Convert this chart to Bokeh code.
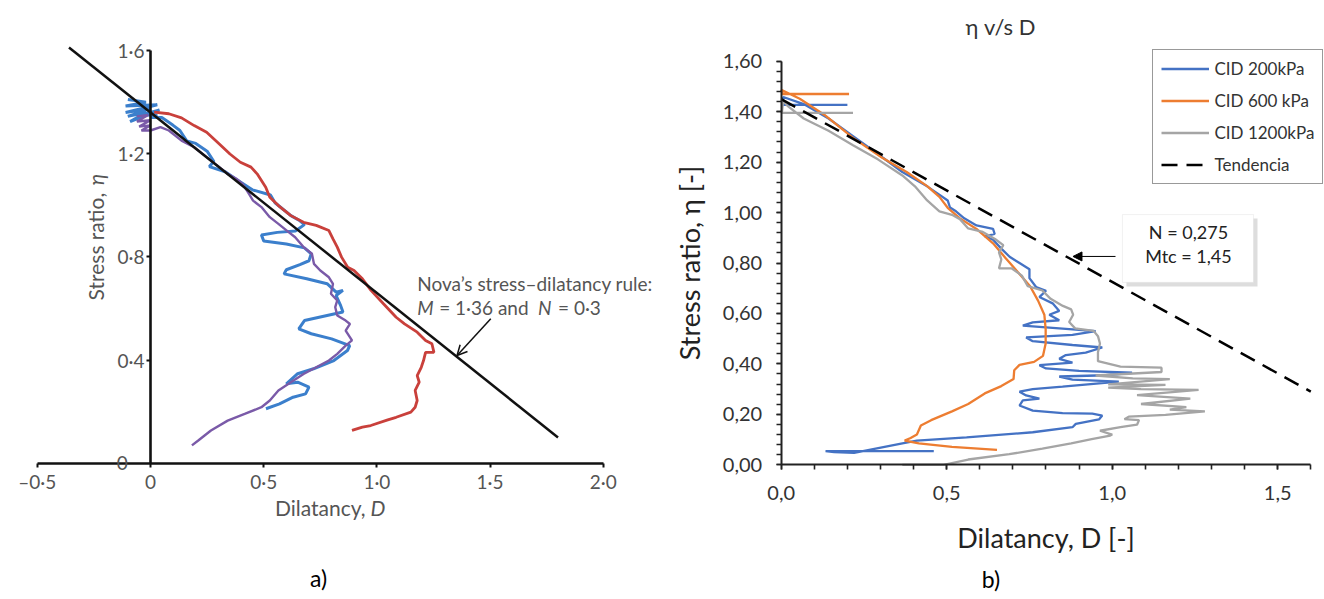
from bokeh.plotting import figure
from bokeh.models import (LinearAxis, FixedTicker, Range1d, Label, Arrow, NormalHead, OpenHead,
                          Legend, LegendItem, BoxAnnotation)
from bokeh.layouts import row
from bokeh.embed import file_html
from bokeh.resources import INLINE

# ---------------- panel a data ----------------
a_x_ticks = [-0.5, 0.0, 0.5, 1.0, 1.5, 2.0]
a_x_labels = ["\u20130\u00b75", "0", "0\u00b75", "1\u00b70", "1\u00b75", "2\u00b70"]
a_y_ticks = [0.4, 0.8, 1.2, 1.6]
a_y_labels = ["0\u00b74", "0\u00b78", "1\u00b72", "1\u00b76"]

nova_D = [-0.36, 1.8]
nova_eta = [1.612, 0.10]

a_blue_D = [-0.10, -0.02, -0.11, 0.03, -0.11, 0.0, -0.10, -0.02, -0.09, 0.04,
            -0.04, 0.03, 0.0,
            0.05, 0.10, 0.13, 0.16, 0.20, 0.25, 0.28, 0.26, 0.33, 0.38,
            0.45, 0.53, 0.55, 0.62, 0.66, 0.68, 0.64, 0.56, 0.49, 0.50,
            0.60, 0.68, 0.71, 0.70, 0.66, 0.60, 0.59, 0.69, 0.78, 0.82,
            0.85, 0.82, 0.84, 0.85, 0.78, 0.68, 0.655, 0.71, 0.80, 0.88,
            0.87, 0.81, 0.72, 0.65, 0.60, 0.65, 0.70, 0.685, 0.63, 0.57, 0.51]
a_blue_eta = [1.41, 1.40, 1.385, 1.39, 1.36, 1.375, 1.345, 1.36, 1.325, 1.37,
              1.35, 1.35, 1.34,
              1.34, 1.31, 1.29, 1.25, 1.24, 1.21, 1.17, 1.15, 1.13, 1.10,
              1.06, 1.04, 1.01, 0.96, 0.94, 0.925, 0.90, 0.895, 0.885, 0.862,
              0.850, 0.835, 0.812, 0.785, 0.770, 0.750, 0.734, 0.715, 0.696, 0.663,
              0.670, 0.650, 0.611, 0.586, 0.573, 0.553, 0.521, 0.502, 0.482, 0.456,
              0.437, 0.398, 0.366, 0.347, 0.308, 0.314, 0.295, 0.269, 0.256, 0.230, 0.211]

a_purple_D = [-0.06, -0.01, -0.06, 0.0, -0.05, 0.0, -0.04, 0.0, 0.044, 0.081,
              0.137, 0.193, 0.248, 0.304, 0.341, 0.379, 0.407, 0.435, 0.453, 0.490,
              0.527, 0.565, 0.602, 0.639, 0.676, 0.713, 0.722, 0.750, 0.788, 0.806,
              0.797, 0.825, 0.816, 0.825, 0.862, 0.881, 0.862, 0.890, 0.862, 0.825,
              0.788, 0.732, 0.676, 0.620, 0.565, 0.527, 0.490, 0.416, 0.341, 0.267,
              0.211, 0.183]
a_purple_eta = [1.345, 1.35, 1.325, 1.33, 1.305, 1.31, 1.29, 1.29, 1.303, 1.290,
                1.251, 1.225, 1.187, 1.148, 1.122, 1.103, 1.083, 1.044, 1.018, 0.993,
                0.954, 0.928, 0.902, 0.876, 0.838, 0.812, 0.773, 0.747, 0.721, 0.695,
                0.657, 0.631, 0.605, 0.573, 0.553, 0.540, 0.514, 0.476, 0.456, 0.424,
                0.398, 0.372, 0.346, 0.314, 0.282, 0.243, 0.217, 0.191, 0.165, 0.127,
                0.088, 0.069]

a_red_D = [0.016, 0.081, 0.137, 0.193, 0.248, 0.304, 0.351, 0.397, 0.444, 0.471,
           0.509, 0.527, 0.565, 0.620, 0.676, 0.732, 0.788, 0.806, 0.825, 0.844,
           0.871, 0.899, 0.936, 0.974, 1.029, 1.085, 1.122, 1.178, 1.215, 1.243,
           1.252, 1.215, 1.206, 1.196, 1.178, 1.187, 1.169, 1.178, 1.169, 1.150,
           1.085, 1.048, 0.973, 0.936, 0.890]
a_red_eta = [1.361, 1.355, 1.339, 1.309, 1.283, 1.238, 1.199, 1.167, 1.148, 1.122,
             1.070, 1.031, 0.999, 0.960, 0.934, 0.922, 0.902, 0.870, 0.838, 0.799,
             0.760, 0.747, 0.715, 0.670, 0.618, 0.566, 0.540, 0.508, 0.476, 0.463,
             0.430, 0.430, 0.398, 0.372, 0.340, 0.314, 0.282, 0.243, 0.217, 0.198,
             0.178, 0.168, 0.146, 0.140, 0.127]

# ---------------- panel b data ----------------
b_x_ticks = [0.0, 0.5, 1.0, 1.5]
b_x_labels = ["0,0", "0,5", "1,0", "1,5"]
b_y_ticks = [0.0, 0.2, 0.4, 0.6, 0.8, 1.0, 1.2, 1.4, 1.6]
b_y_labels = ["0,00", "0,20", "0,40", "0,60", "0,80", "1,00", "1,20", "1,40", "1,60"]
series_names = ["CID 200kPa", "CID 600 kPa", "CID 1200kPa", "Tendencia"]

trend_D = [0.0, 1.6]
trend_eta = [1.45, 0.29]

b_blue_D = [0.461, 0.134, 0.16, 0.22, 0.27, 0.37, 0.41, 0.56, 0.76, 0.88,
            0.89, 0.96, 0.97, 0.94, 0.85, 0.76, 0.72, 0.73, 0.78, 0.74,
            0.72, 0.76, 0.85, 1.02, 0.88, 0.84, 0.98, 1.06, 0.90, 0.80,
            0.78, 0.88, 0.84, 0.86, 0.92, 0.97, 0.88, 0.76, 0.74, 0.88,
            0.95, 0.80, 0.73, 0.76, 0.84, 0.81, 0.84, 0.82, 0.78, 0.80,
            0.77, 0.75, 0.75, 0.72, 0.69, 0.665, 0.64, 0.615, 0.645, 0.64,
            0.59, 0.553, 0.528, 0.51, 0.503, 0.472, 0.441, 0.366, 0.292, 0.217,
            0.143, 0.068, 0.006, 0.005, 0.20]
b_blue_eta = [0.054, 0.054, 0.050, 0.047, 0.060, 0.086, 0.096, 0.109, 0.129, 0.149,
              0.162, 0.180, 0.195, 0.203, 0.205, 0.215, 0.235, 0.255, 0.262, 0.275,
              0.290, 0.300, 0.310, 0.330, 0.338, 0.350, 0.355, 0.365, 0.372, 0.382,
              0.395, 0.405, 0.420, 0.435, 0.445, 0.465, 0.475, 0.490, 0.505, 0.515,
              0.530, 0.545, 0.552, 0.565, 0.573, 0.595, 0.610, 0.640, 0.665, 0.690,
              0.705, 0.740, 0.775, 0.800, 0.825, 0.857, 0.892, 0.906, 0.915, 0.935,
              0.949, 0.977, 1.005, 1.02, 1.048, 1.076, 1.104, 1.161, 1.232, 1.303,
              1.373, 1.430, 1.458, 1.427, 1.427]

b_orange_D = [0.652, 0.516, 0.416, 0.373, 0.391, 0.410, 0.422, 0.453, 0.516, 0.565,
              0.615, 0.665, 0.702, 0.704, 0.720, 0.764, 0.791, 0.799, 0.799, 0.795,
              0.776, 0.752, 0.714, 0.677, 0.640, 0.590, 0.540, 0.503, 0.478, 0.441,
              0.379, 0.304, 0.217, 0.130, 0.056, 0.0, 0.005, 0.205]
b_orange_eta = [0.059, 0.071, 0.085, 0.096, 0.106, 0.120, 0.156, 0.177, 0.212, 0.241,
                0.283, 0.312, 0.340, 0.375, 0.396, 0.408, 0.432, 0.481, 0.538, 0.595,
                0.651, 0.708, 0.765, 0.821, 0.878, 0.935, 0.977, 1.019, 1.062, 1.105,
                1.161, 1.218, 1.296, 1.388, 1.451, 1.487, 1.47, 1.47]

b_gray_D = [0.366, 0.491, 0.565, 0.689, 0.789, 0.876, 0.938, 0.994, 1.0, 0.963,
            1.025, 1.075, 1.081, 1.037, 1.050, 1.161, 1.280, 1.174, 1.224, 1.087,
            1.236, 1.075, 1.261, 1.087, 0.988, 1.161, 0.988, 1.174, 1.062, 0.950,
            1.149, 1.149, 1.025, 0.957, 0.957, 0.963, 0.957, 0.944, 0.888, 0.870,
            0.882, 0.876, 0.851, 0.814, 0.789, 0.745, 0.727, 0.696, 0.658, 0.665,
            0.658, 0.671, 0.646, 0.609, 0.565, 0.540, 0.516, 0.478, 0.441, 0.404,
            0.366, 0.292, 0.217, 0.143, 0.068, 0.019, 0.006, 0.002, 0.217]
b_gray_eta = [0.0, 0.0, 0.021, 0.042, 0.064, 0.085, 0.102, 0.116, 0.120, 0.135,
              0.149, 0.159, 0.177, 0.181, 0.191, 0.198, 0.212, 0.219, 0.229, 0.241,
              0.262, 0.276, 0.297, 0.300, 0.306, 0.317, 0.319, 0.340, 0.343, 0.354,
              0.368, 0.385, 0.389, 0.411, 0.446, 0.481, 0.510, 0.531, 0.541, 0.566,
              0.595, 0.616, 0.630, 0.658, 0.691, 0.708, 0.750, 0.779, 0.779, 0.814,
              0.842, 0.871, 0.895, 0.923, 0.937, 0.974, 0.991, 1.005, 1.048, 1.104,
              1.147, 1.211, 1.267, 1.324, 1.373, 1.423, 1.444, 1.395, 1.395]

FA = "Lato"
GREY = "#555555"


def lab(p, x, y, text, size, color, font=FA, align="left", baseline="middle", angle=0, style="normal"):
    p.add_layout(Label(x=x, y=y, text=text, text_font=font, text_font_size=size, text_color=color,
                       text_align=align, text_baseline=baseline, angle=angle, text_font_style=style))


# ================= panel a =================
pa = figure(width=662, height=599, x_range=Range1d(-0.6625, 2.2615), y_range=Range1d(-0.5285, 1.7941),
            x_axis_type=None, y_axis_type=None, toolbar_location=None, output_backend="svg",
            min_border=0, outline_line_color=None)
pa.background_fill_color = "white"
pa.border_fill_color = "white"

pa.line(a_blue_D, a_blue_eta, line_color="#3b7fcc", line_width=3.0)
pa.line(a_purple_D, a_purple_eta, line_color="#7a5aa8", line_width=2.4)
pa.line(a_red_D, a_red_eta, line_color="#c9403b", line_width=2.8)
pa.line(nova_D, nova_eta, line_color="#111111", line_width=2.5)

xa = LinearAxis(fixed_location=0, bounds=(-0.5, 2.0), ticker=FixedTicker(ticks=a_x_ticks),
                major_label_overrides=dict(zip(a_x_ticks, a_x_labels)))
ya = LinearAxis(fixed_location=0, bounds=(0, 1.6), ticker=FixedTicker(ticks=a_y_ticks),
                major_label_overrides=dict(zip(a_y_ticks, a_y_labels)))
for ax in (xa, ya):
    ax.axis_line_width = 2.6
    ax.axis_line_color = "#111111"
    ax.major_tick_line_width = 2
    ax.major_tick_line_color = "#111111"
    ax.major_tick_out = 4
    ax.major_tick_in = 0
    ax.minor_tick_out = 0
    ax.minor_tick_in = 0
    ax.major_label_text_font = FA
    ax.major_label_text_font_size = "19px"
    ax.major_label_text_color = GREY
xa.major_label_standoff = 3
ya.major_label_standoff = 2
pa.add_layout(xa, "below")
pa.add_layout(ya, "left")

lab(pa, -0.125, 0.0, "0", "19px", GREY, align="center")
lab(pa, 0.95, -0.171, "Dilatancy,", "21px", GREY, align="right")
lab(pa, 0.972, -0.171, "D", "21px", GREY, style="italic")
lab(pa, -0.241, 0.631, "Stress ratio,", "21px", GREY, align="left", angle=1.5708)
lab(pa, -0.241, 1.078, "\u03b7", "21px", GREY, align="left", angle=1.5708, style="italic")
lab(pa, 1.178, 0.697, "Nova\u2019s stress\u2013dilatancy rule:", "19px", GREY)
lab(pa, 1.178, 0.605, "M", "19px", GREY, style="italic")
lab(pa, 1.275, 0.605, "= 1\u00b736 and", "19px", GREY)
lab(pa, 1.712, 0.605, "N", "19px", GREY, style="italic")
lab(pa, 1.800, 0.605, "= 0\u00b73", "19px", GREY)
lab(pa, 0.742, -0.447, "a)", "23px", "#000000", align="center")

pa.add_layout(Arrow(end=OpenHead(size=10, line_width=1.5, line_color="#111111"),
                    x_start=1.503, y_start=0.56, x_end=1.354, y_end=0.4176,
                    line_width=1.5, line_color="#111111"))

# ================= panel b =================
pb = figure(width=662, height=599, x_range=Range1d(-0.3586, 1.6414), y_range=Range1d(-0.534, 1.8407),
            x_axis_type=None, y_axis_type=None, toolbar_location=None, output_backend="svg",
            min_border=0, outline_line_color=None)
pb.background_fill_color = "white"
pb.border_fill_color = "white"

r_blue = pb.line(b_blue_D, b_blue_eta, line_color="#4472C4", line_width=2.3)
r_orange = pb.line(b_orange_D, b_orange_eta, line_color="#ED7D31", line_width=2.3)
r_gray = pb.line(b_gray_D, b_gray_eta, line_color="#A5A5A5", line_width=2.3)
r_trend = pb.line(trend_D, trend_eta, line_color="#000000", line_width=2.5, line_dash="16 9")

xb = LinearAxis(fixed_location=0, bounds=(0, 1.6),
                ticker=FixedTicker(ticks=b_x_ticks, minor_ticks=[i / 10 for i in range(17)]),
                major_label_overrides=dict(zip(b_x_ticks, b_x_labels)),
                axis_label="Dilatancy, D [-]")
yb = LinearAxis(fixed_location=0, bounds=(0, 1.6),
                ticker=FixedTicker(ticks=b_y_ticks, minor_ticks=[i * 0.04 for i in range(41)]),
                major_label_overrides=dict(zip(b_y_ticks, b_y_labels)),
                axis_label="Stress ratio, \u03b7 [-]")
for ax in (xb, yb):
    ax.axis_line_width = 2
    ax.axis_line_color = "#222222"
    ax.major_tick_line_width = 1.6
    ax.minor_tick_line_width = 1.6
    ax.major_tick_line_color = "#222222"
    ax.minor_tick_line_color = "#222222"
    ax.major_tick_out = 5
    ax.major_tick_in = 0
    ax.minor_tick_out = 5
    ax.minor_tick_in = 0
    ax.major_label_text_font = FA
    ax.major_label_text_font_size = "20px"
    ax.major_label_text_color = "#333333"
    ax.axis_label_text_font = FA
    ax.axis_label_text_font_size = "27px"
    ax.axis_label_text_font_style = "normal"
    ax.axis_label_text_color = "#222222"
xb.major_label_standoff = 16
yb.major_label_standoff = 14
xb.axis_label_standoff = 18
yb.axis_label_standoff = 14
pb.add_layout(xb, "below")
pb.add_layout(yb, "left")

legend = Legend(items=[LegendItem(label=series_names[0], renderers=[r_blue]),
                       LegendItem(label=series_names[1], renderers=[r_orange]),
                       LegendItem(label=series_names[2], renderers=[r_gray]),
                       LegendItem(label=series_names[3], renderers=[r_trend])],
                location=(489.5, 415), padding=8, spacing=11, glyph_width=48, glyph_height=19,
                label_height=19, label_standoff=6, margin=0,
                border_line_color="#333333", border_line_width=1.5,
                background_fill_color="white", background_fill_alpha=1,
                label_text_font=FA, label_text_font_size="17px", label_text_color="#333333")
pb.add_layout(legend)

pb.add_layout(BoxAnnotation(left=1.043, right=1.439, top=0.976, bottom=0.707,
                            fill_color="#cfcfcf", fill_alpha=0.7, line_color=None))
pb.add_layout(BoxAnnotation(left=1.031, right=1.427, top=0.992, bottom=0.723,
                            fill_color="white", fill_alpha=1, line_color="#d0d0d0", line_width=1))
lab(pb, 1.2305, 0.921, "N = 0,275", "18px", "#222222", align="center")
lab(pb, 1.2305, 0.826, "Mtc = 1,45", "18px", "#222222", align="center")
pb.add_layout(Arrow(end=NormalHead(size=9, fill_color="#000000", line_color="#000000"),
                    x_start=1.010, y_start=0.826, x_end=0.8815, y_end=0.826,
                    line_width=1, line_color="#000000"))
lab(pb, 0.6625, 1.7376, "\u03b7 v/s D", "22px", "#333333", align="center")
lab(pb, 0.6335, -0.451, "b)", "23px", "#000000", align="center")

layout = row(pa, pb)
open("out.html", "w").write(file_html(layout, INLINE))
